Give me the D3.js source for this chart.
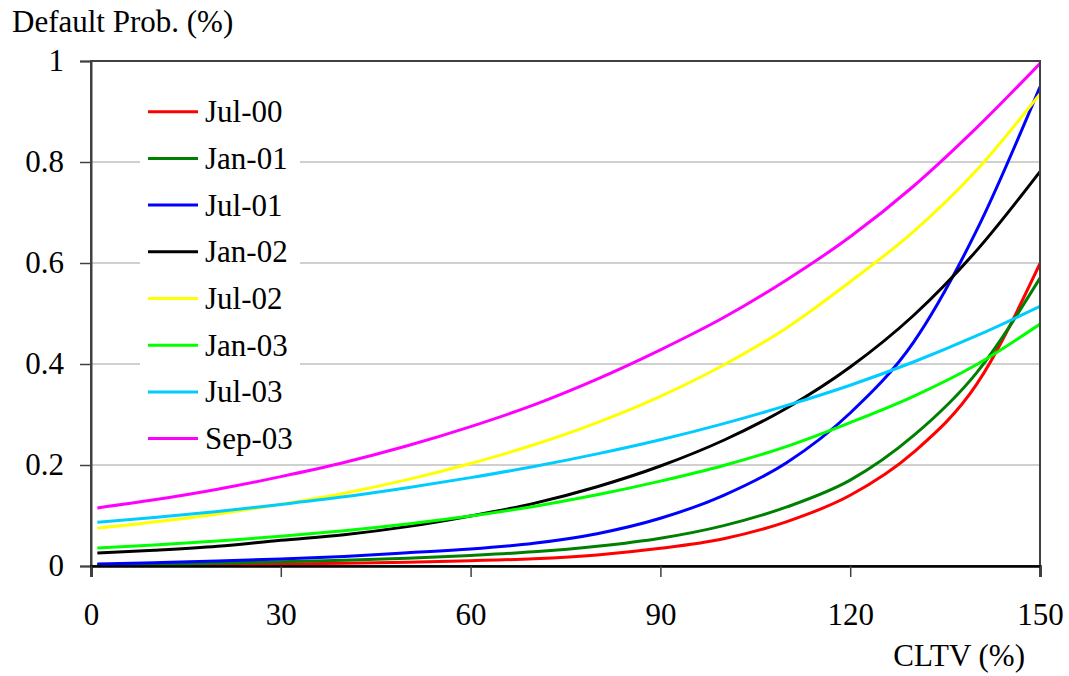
<!DOCTYPE html>
<html><head><meta charset="utf-8"><script src="https://cdn.jsdelivr.net/npm/d3@7"></script></head>
<body style="margin:0">
<svg id="chart" width="1069" height="676" style="display:block"></svg>
<script>
// ---- data ----
const cltv = [1, 10, 20, 30, 40, 50, 60, 70, 80, 90, 100, 110, 120, 130, 140, 150];
const seriesNames = ["Jul-00", "Jan-01", "Jul-01", "Jan-02", "Jul-02", "Jan-03", "Jul-03", "Sep-03"];
const seriesColors = ["#ff0000", "#008000", "#0000ff", "#000000", "#ffff00", "#00ff00", "#00ccff", "#ff00ff"];
const jul00 = [0.001, 0.0015, 0.0025, 0.004, 0.0055, 0.0075, 0.0105, 0.0145, 0.022, 0.035, 0.054, 0.088, 0.140, 0.225, 0.360, 0.599];
const jan01 = [0.002, 0.004, 0.006, 0.0085, 0.0115, 0.0155, 0.021, 0.028, 0.039, 0.055, 0.080, 0.117, 0.170, 0.258, 0.383, 0.570];
const jul01 = [0.004, 0.0065, 0.0098, 0.0139, 0.019, 0.026, 0.0335, 0.045, 0.064, 0.0945, 0.140, 0.205, 0.303, 0.443, 0.665, 0.949];
const jan02 = [0.0255, 0.0311, 0.039, 0.051, 0.062, 0.078, 0.099, 0.124, 0.157, 0.198, 0.249, 0.313, 0.394, 0.496, 0.625, 0.781];
const jul02 = [0.075, 0.087, 0.103, 0.122, 0.144, 0.171, 0.203, 0.240, 0.284, 0.336, 0.398, 0.472, 0.563, 0.662, 0.784, 0.935];
const jan03 = [0.0356, 0.0416, 0.0495, 0.0588, 0.0699, 0.0832, 0.0989, 0.118, 0.141, 0.168, 0.199, 0.237, 0.284, 0.336, 0.399, 0.479];
const jul03 = [0.0865, 0.096, 0.108, 0.122, 0.137, 0.155, 0.175, 0.197, 0.222, 0.250, 0.282, 0.318, 0.358, 0.404, 0.456, 0.514];
const sep03 = [0.115, 0.131, 0.152, 0.177, 0.205, 0.238, 0.276, 0.319, 0.370, 0.428, 0.492, 0.567, 0.652, 0.752, 0.868, 0.995];
const seriesValues = [jul00, jan01, jul01, jan02, jul02, jan03, jul03, sep03];
const xTicks = [0, 30, 60, 90, 120, 150];
const yTicks = [0, 0.2, 0.4, 0.6, 0.8, 1];
const yTickLabels = ["0", "0.2", "0.4", "0.6", "0.8", "1"];

// ---- layout ----
const L = 91, R = 1040, T = 61, B = 566;
const fontSize = 31;
const svg = d3.select("#chart");
const applyFont = sel => sel
  .attr("font-family", "Liberation Serif")
  .attr("font-size", fontSize)
  .style("font", `${fontSize}px "Liberation Serif"`, "important")
  .attr("fill", "#000");

const x = d3.scaleLinear().domain([0, 150]).range([L, R]);
const y = d3.scaleLinear().domain([0, 1]).range([B, T]);

// gridlines
svg.append("g").selectAll("line").data(yTicks.filter(d => d > 0 && d < 1)).join("line")
  .attr("x1", L).attr("x2", R).attr("y1", d => y(d)).attr("y2", d => y(d))
  .attr("stroke", "#c0c0c0").attr("stroke-width", 1.5);

// clip
svg.append("clipPath").attr("id", "clip").append("rect")
  .attr("x", L).attr("y", T - 2).attr("width", R - L).attr("height", B - T + 2);

// series
const line = d3.line().x((d, i) => x(cltv[i])).y(d => y(d)).curve(d3.curveMonotoneX);
svg.append("g").attr("clip-path", "url(#clip)").selectAll("path").data(seriesValues).join("path")
  .attr("d", d => line(d))
  .attr("fill", "none")
  .attr("stroke", (d, i) => seriesColors[i])
  .attr("stroke-width", 3);

// frame (top, right)
svg.append("rect").attr("x", L).attr("y", T).attr("width", R - L).attr("height", B - T)
  .attr("fill", "none").attr("stroke", "#404040").attr("stroke-width", 2);

// y axis
const yAxis = d3.axisLeft(y).tickValues(yTicks).tickFormat((d, i) => yTickLabels[i]).tickSize(11).tickPadding(16);
const gy = svg.append("g").attr("transform", `translate(${L},0)`).call(yAxis);
gy.attr("font-family", "Liberation Serif").attr("font-size", fontSize);
gy.select(".domain").attr("stroke", "#404040").attr("stroke-width", 2);
gy.selectAll(".tick line").attr("stroke", "#404040").attr("stroke-width", 1.5);

// x axis
const xAxis = d3.axisBottom(x).tickValues(xTicks).tickFormat(d3.format("d")).tickSize(11).tickPadding(26);
const gx = svg.append("g").attr("transform", `translate(0,${B})`).call(xAxis);
gx.attr("font-family", "Liberation Serif").attr("font-size", fontSize);
gx.select(".domain").attr("stroke", "#000").attr("stroke-width", 2.5);
gx.selectAll(".tick line").attr("stroke", "#404040").attr("stroke-width", 1.5);

// axis titles
svg.append("text").attr("x", 12).attr("y", 32).text("Default Prob. (%)");
svg.append("text").attr("x", 1025).attr("y", 666).attr("text-anchor", "end").text("CLTV (%)");

// legend
const lg = svg.append("g");
lg.append("rect").attr("x", 140).attr("y", 88).attr("width", 160).attr("height", 372).attr("fill", "#fff");
const legendTop = 111.7, legendStep = 46.7;
seriesNames.forEach((name, i) => {
  const ly = legendTop + i * legendStep;
  lg.append("line").attr("x1", 148).attr("x2", 198).attr("y1", ly).attr("y2", ly)
    .attr("stroke", seriesColors[i]).attr("stroke-width", 3);
  lg.append("text").attr("x", 205).attr("y", ly + 10.5).text(name);
});

// apply the serif face to every text, and re-apply it if anything changes it later
svg.attr("font-family", "Liberation Serif");
const fontAll = () => applyFont(svg.selectAll("text"));
fontAll();
requestAnimationFrame(fontAll);
setTimeout(fontAll, 50);
setTimeout(fontAll, 300);
</script>
</body>
</html>
